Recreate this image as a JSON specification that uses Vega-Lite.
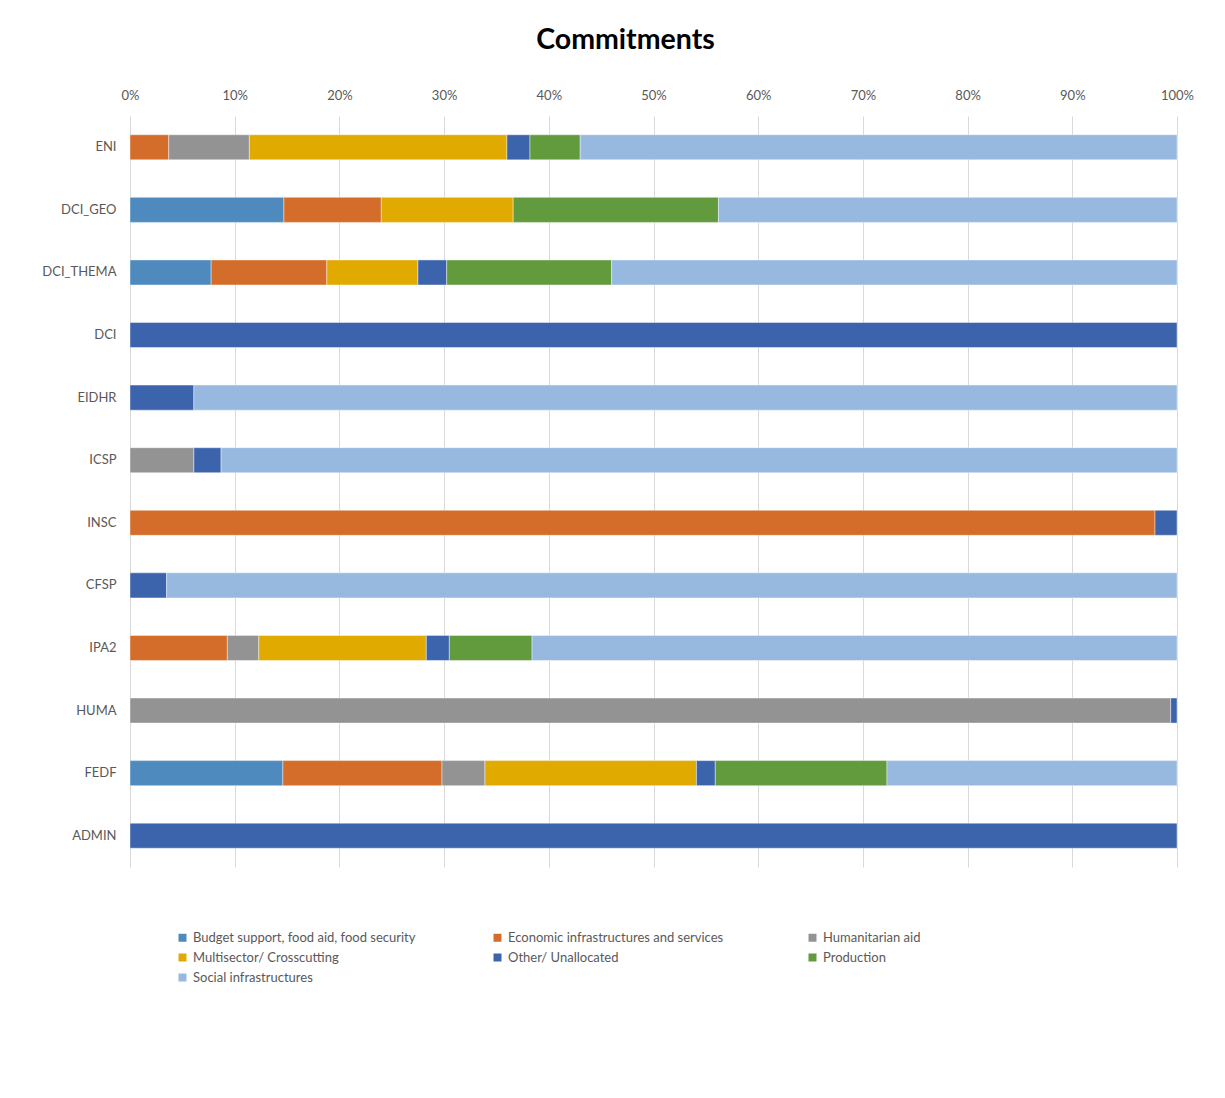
{
  "$schema": "https://vega.github.io/schema/vega-lite/v6.json",
  "autosize": {"type": "none"},
  "width": 1047,
  "height": 751,
  "padding": {"left": 130, "top": 116, "right": 48, "bottom": 231},
  "background": "white",
  "title": {
    "text": "Commitments",
    "font": "Lato",
    "fontSize": 28.5,
    "fontWeight": "bold",
    "color": "#000000",
    "anchor": "middle",
    "frame": "group",
    "dx": -28,
    "offset": 35
  },
  "data": {
    "values": [
      {"instrument": "ENI", "sector": "Economic infrastructures and services", "share": 3.7},
      {"instrument": "ENI", "sector": "Humanitarian aid", "share": 7.7},
      {"instrument": "ENI", "sector": "Multisector/ Crosscutting", "share": 24.6},
      {"instrument": "ENI", "sector": "Other/ Unallocated", "share": 2.2},
      {"instrument": "ENI", "sector": "Production", "share": 4.8},
      {"instrument": "ENI", "sector": "Social infrastructures", "share": 57.0},
      {"instrument": "DCI_GEO", "sector": "Budget support, food aid, food security", "share": 14.7},
      {"instrument": "DCI_GEO", "sector": "Economic infrastructures and services", "share": 9.3},
      {"instrument": "DCI_GEO", "sector": "Multisector/ Crosscutting", "share": 12.6},
      {"instrument": "DCI_GEO", "sector": "Production", "share": 19.6},
      {"instrument": "DCI_GEO", "sector": "Social infrastructures", "share": 43.8},
      {"instrument": "DCI_THEMA", "sector": "Budget support, food aid, food security", "share": 7.75},
      {"instrument": "DCI_THEMA", "sector": "Economic infrastructures and services", "share": 11.05},
      {"instrument": "DCI_THEMA", "sector": "Multisector/ Crosscutting", "share": 8.7},
      {"instrument": "DCI_THEMA", "sector": "Other/ Unallocated", "share": 2.75},
      {"instrument": "DCI_THEMA", "sector": "Production", "share": 15.75},
      {"instrument": "DCI_THEMA", "sector": "Social infrastructures", "share": 54.0},
      {"instrument": "DCI", "sector": "Other/ Unallocated", "share": 100},
      {"instrument": "EIDHR", "sector": "Other/ Unallocated", "share": 6.1},
      {"instrument": "EIDHR", "sector": "Social infrastructures", "share": 93.9},
      {"instrument": "ICSP", "sector": "Humanitarian aid", "share": 6.1},
      {"instrument": "ICSP", "sector": "Other/ Unallocated", "share": 2.6},
      {"instrument": "ICSP", "sector": "Social infrastructures", "share": 91.3},
      {"instrument": "INSC", "sector": "Economic infrastructures and services", "share": 97.9},
      {"instrument": "INSC", "sector": "Other/ Unallocated", "share": 2.1},
      {"instrument": "CFSP", "sector": "Other/ Unallocated", "share": 3.5},
      {"instrument": "CFSP", "sector": "Social infrastructures", "share": 96.5},
      {"instrument": "IPA2", "sector": "Economic infrastructures and services", "share": 9.3},
      {"instrument": "IPA2", "sector": "Humanitarian aid", "share": 3.0},
      {"instrument": "IPA2", "sector": "Multisector/ Crosscutting", "share": 16.0},
      {"instrument": "IPA2", "sector": "Other/ Unallocated", "share": 2.2},
      {"instrument": "IPA2", "sector": "Production", "share": 7.9},
      {"instrument": "IPA2", "sector": "Social infrastructures", "share": 61.6},
      {"instrument": "HUMA", "sector": "Humanitarian aid", "share": 99.4},
      {"instrument": "HUMA", "sector": "Other/ Unallocated", "share": 0.6},
      {"instrument": "FEDF", "sector": "Budget support, food aid, food security", "share": 14.6},
      {"instrument": "FEDF", "sector": "Economic infrastructures and services", "share": 15.2},
      {"instrument": "FEDF", "sector": "Humanitarian aid", "share": 4.1},
      {"instrument": "FEDF", "sector": "Multisector/ Crosscutting", "share": 20.2},
      {"instrument": "FEDF", "sector": "Other/ Unallocated", "share": 1.8},
      {"instrument": "FEDF", "sector": "Production", "share": 16.4},
      {"instrument": "FEDF", "sector": "Social infrastructures", "share": 27.7},
      {"instrument": "ADMIN", "sector": "Other/ Unallocated", "share": 100}
    ]
  },
  "mark": {"type": "bar", "stroke": "#ffffff", "strokeWidth": 0.6, "strokeOpacity": 0.7},
  "encoding": {
    "y": {
      "field": "instrument",
      "type": "nominal",
      "sort": ["ENI", "DCI_GEO", "DCI_THEMA", "DCI", "EIDHR", "ICSP", "INSC", "CFSP", "IPA2", "HUMA", "FEDF", "ADMIN"],
      "scale": {"paddingInner": 0.6, "paddingOuter": 0.3},
      "axis": {
        "title": null,
        "ticks": false,
        "domain": false,
        "labelPadding": 14,
        "labelFont": "Lato",
        "labelFontSize": 13,
        "labelColor": "#595959"
      }
    },
    "x": {
      "field": "share",
      "type": "quantitative",
      "stack": "normalize",
      "scale": {"domain": [0, 1], "nice": false},
      "axis": {
        "orient": "top",
        "title": null,
        "format": ".0%",
        "values": [0, 0.1, 0.2, 0.3, 0.4, 0.5, 0.6, 0.7, 0.8, 0.9, 1],
        "ticks": false,
        "domain": false,
        "grid": true,
        "gridColor": "#d9d9d9",
        "gridWidth": 1,
        "labelPadding": 14,
        "labelFont": "Lato",
        "labelFontSize": 13,
        "labelColor": "#595959",
        "labelFlush": false
      }
    },
    "color": {
      "field": "sector",
      "type": "nominal",
      "scale": {
        "domain": ["Budget support, food aid, food security", "Economic infrastructures and services", "Humanitarian aid", "Multisector/ Crosscutting", "Other/ Unallocated", "Production", "Social infrastructures"],
        "range": ["#4F8ABE", "#D46D2A", "#939393", "#E1AA00", "#3C64AD", "#629A3E", "#97B8DF"]
      },
      "legend": {
        "orient": "none",
        "legendX": 46,
        "legendY": 815,
        "direction": "horizontal",
        "columns": 3,
        "gridAlign": "all",
        "columnPadding": 75,
        "rowPadding": 6,
        "title": null,
        "symbolType": "square",
        "symbolSize": 64,
        "symbolStrokeWidth": 0,
        "symbolOffset": 0,
        "labelOffset": 4,
        "labelFont": "Lato",
        "labelFontSize": 13,
        "labelColor": "#595959",
        "labelLimit": 400
      }
    },
    "order": {"field": "sector", "sort": "ascending"}
  },
  "config": {
    "view": {"stroke": null}
  }
}
